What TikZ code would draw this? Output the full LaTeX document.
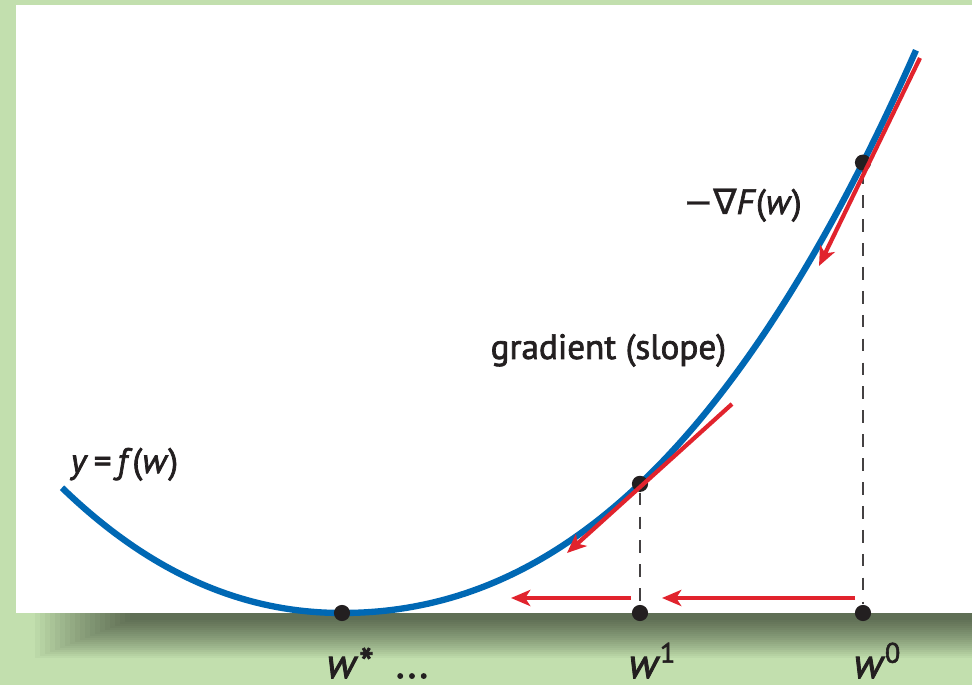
\documentclass[tikz,border=0pt]{standalone}
\usepackage{fontspec}
\setmainfont{PT Sans}[FakeBold=2]
\newfontfamily\symfont{DejaVu Sans}[FakeBold=1]
\usetikzlibrary{arrows.meta}
\definecolor{leaf}{RGB}{194,223,174}
\definecolor{curveblue}{RGB}{0,104,180}
\definecolor{steepred}{RGB}{225,35,45}
\definecolor{ink}{RGB}{35,31,32}

\begin{document}
\begin{tikzpicture}[x=1cm,y=-1cm,
  dot/.style={circle,fill=ink,inner sep=0pt,minimum size=4.6pt},
  guide/.style={ink!85,line width=0.7pt,dash pattern=on 3.6pt off 3.2pt},
  descent/.style={steepred,line width=1.2pt,-{Stealth[length=5.5pt,width=4.6pt,inset=1.5pt]}},
  lbl/.style={font=\fontsize{10}{12}\selectfont,text=ink,inner sep=0pt,anchor=base west},
  axislbl/.style={font=\fontsize{12}{14}\selectfont,text=ink,inner sep=0pt,anchor=base west},
  declare function={lossf(\x)=6.13-(0.118*(\x-3.42)*(\x-3.42)+0.0092*abs(\x-3.42)^3+0.016*(\x<3.42)*(\x-3.42)*(\x-3.42));}]
  % background, shadow and panel
  \fill[leaf] (0,0) rectangle (9.72,6.85);
  \useasboundingbox (0,0) rectangle (9.72,6.85);
  \foreach \k in {0,...,19}
    \fill[black,opacity=0.03] (0.35+0.05*\k,6.10) rectangle (9.8,6.58-0.02*\k);
  \fill[white] (0.16,0.05) rectangle (9.72,6.13);
  % the loss curve
  \draw[curveblue,line width=1.8pt] plot[domain=0.62:9.16,samples=120,smooth] (\x,{lossf(\x)});
  % points on the curve and on the axis
  \node[dot] (wstar) at (3.42,6.13) {};
  \node[dot] (w1) at (6.40,6.13) {};
  \node[dot] (w0) at (8.63,6.13) {};
  \node[dot] (w1c) at (6.40,{lossf(6.40)}) {};
  \node[dot] (w0c) at (8.63,{lossf(8.63)}) {};
  \draw[guide] (w1c) -- (w1);
  \draw[guide] (w0c) -- (w0);
  % steps
  \coordinate (t0s) at (9.20,0.58); \coordinate (t0e) at (8.19,2.66);
  \coordinate (t1s) at (7.32,4.04); \coordinate (t1e) at (5.67,5.53);
  \coordinate (h0s) at (8.55,5.98); \coordinate (h0e) at (6.62,5.98);
  \coordinate (h1s) at (6.31,5.98); \coordinate (h1e) at (5.11,5.98);
  \draw[descent] (t0s) -- (t0e);
  \draw[descent] (t1s) -- (t1e);
  \draw[descent] (h0s) -- (h0e);
  \draw[descent] (h1s) -- (h1e);
  % labels
  \node[lbl] (curvelbl) at (0.70,4.73) {\textit{y}\,=\,\textit{f}(\textit{w})};
  \node[lbl] (gradlbl) at (4.90,3.59) {gradient (slope)};
  \node[lbl] (steplbl) at (6.83,2.14) {{\symfont −∇}\textit{F}(\textit{w})};
  \node[axislbl] (wstarlbl) at (3.26,6.78) {\textit{w}\kern0.3pt*};
  \node[axislbl] (morelbl) at (3.95,6.78) {...};
  \node[axislbl] (w1lbl) at (6.28,6.78) {\textit{w}\textsuperscript{1}};
  \node[axislbl] (w0lbl) at (8.53,6.78) {\textit{w}\textsuperscript{0}};
\end{tikzpicture}
\end{document}
